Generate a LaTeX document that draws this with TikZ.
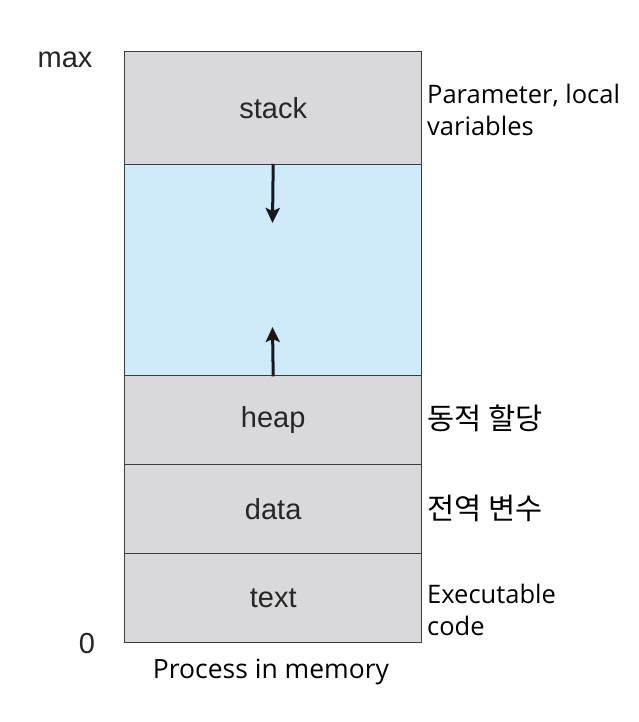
\documentclass[tikz,border=0pt]{standalone}
\usepackage{fontspec}
\setmainfont{Liberation Sans}
\newfontfamily\sidefont{Open Sans}
\newfontfamily\krfont{Noto Sans CJK KR}
\usetikzlibrary{arrows.meta}
\definecolor{segfill}{HTML}{D9D9DB}
\definecolor{freefill}{HTML}{CFEAF9}
\definecolor{segline}{HTML}{3C3C3C}
\tikzset{
  seg/.style={draw=segline, line width=1.4pt, fill=segfill, minimum width=297pt, inner sep=0pt, anchor=north west,
    font=\fontsize{29}{32}\selectfont, text=black!85},
  side/.style={anchor=west, inner sep=0pt, align=left, font=\sidefont\fontsize{25.5}{31.5}\selectfont},
  kside/.style={anchor=west, inner sep=0pt, font=\krfont\fontsize{29.5}{32}\selectfont},
  growarrow/.style={line width=3pt, black!90, -{Stealth[length=15pt,width=14pt,inset=3pt]}},
  axis/.style={inner sep=0pt, font=\fontsize{29}{32}\selectfont, text=black!85}
}
\begin{document}
\begin{tikzpicture}[x=1pt,y=-1pt]
\useasboundingbox (0,0) rectangle (639,722);
\fill[white] (0,0) rectangle (639,722);
\node[seg, minimum height=113pt] (stack) at (124,51) {stack};
\node[seg, minimum height=211pt, fill=freefill] (free) at (124,164) {};
\node[seg, minimum height=89pt] (heap) at (124,375) {heap};
\node[seg, minimum height=89pt] (data) at (124,464) {data};
\node[seg, minimum height=89pt] (text) at (124,553) {text};
\coordinate (downend) at (272.5,223);
\coordinate (upend) at (272.5,327);
\draw[growarrow] (free.north) -- (downend);
\draw[growarrow] (free.south) -- (upend);
\node[side] (lparam) at (427,110) {Parameter, local\\variables};
\node[kside] (lheap) at (427,418) {동적 할당};
\node[kside] (ldata) at (427,508) {전역 변수};
\node[side] (ltext) at (427,610) {Executable\\code};
\node[axis] (max) at (65,60) {max};
\node[axis] (zero) at (87,644) {0};
\node[side, font=\sidefont\fontsize{26.5}{30}\selectfont, anchor=center] (caption) at (271,672) {Process in memory};
\end{tikzpicture}
\end{document}
